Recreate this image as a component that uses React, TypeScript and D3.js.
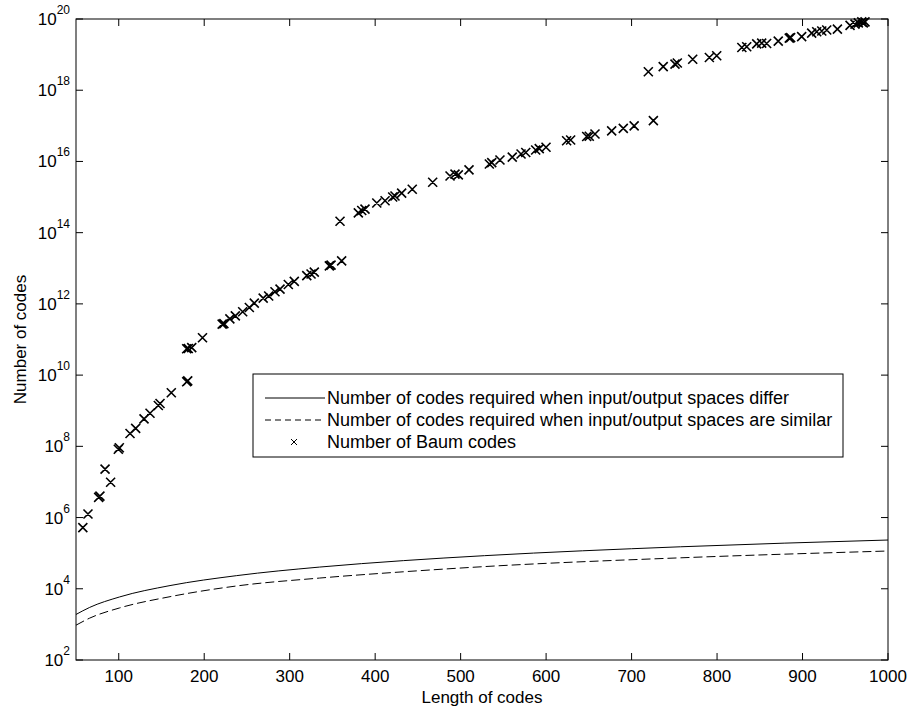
import React from 'react';
import * as d3 from 'd3';

const xTicks = [100, 200, 300, 400, 500, 600, 700, 800, 900, 1000];
const yTickExps = [2, 4, 6, 8, 10, 12, 14, 16, 18, 20];

const curveX = [50, 66, 101, 160, 238, 335, 433, 528, 757, 1000];
const differY = [1900, 3000, 5900, 12300, 23400, 40700, 61700, 85100, 151000, 234000];
const similarY = [950, 1500, 2900, 6000, 12000, 20000, 30000, 42000, 74000, 115000];

const baumX = [58, 64, 76.5, 78, 84, 90.5, 99.5, 100.7, 113.2, 119.8, 129.6, 136.6, 146.3, 148.3, 161.5, 179.5, 180.7, 179.5, 181.4, 185.4, 198, 221, 223, 230, 236.4, 245, 252.8, 258.6, 269, 275.4, 282.8, 288.7, 298.4, 305.4, 320, 325, 328.8, 346.4, 348.4, 360.8, 358.9, 380.3, 384.3, 388.1, 401.9, 411.6, 420.5, 423.2, 431, 443.4, 467.3, 487.6, 493.4, 497.3, 509.8, 533.6, 536.4, 546, 560.4, 570.7, 576.2, 587.8, 592, 599.9, 624, 628.7, 647.5, 650.5, 657.2, 676.7, 690.3, 703, 725.5, 719.6, 737, 750.8, 753.5, 771.5, 791, 799.6, 829, 834.7, 846.4, 852.2, 858, 871.6, 884.5, 886.1, 899, 910.7, 916.6, 922.5, 928.3, 940.8, 955.6, 961.4, 965.3, 969.3, 971.1, 973.1];
const baumY = [5.2e5, 1.26e6, 3.7e6, 4.0e6, 2.3e7, 9.8e6, 8.3e7, 9.1e7, 2.3e8, 3.2e8, 5.9e8, 8.5e8, 1.4e9, 1.6e9, 3.2e9, 6.5e9, 6.9e9, 5.5e10, 5.6e10, 5.9e10, 1.12e11, 2.7e11, 2.8e11, 3.8e11, 4.6e11, 6.0e11, 7.9e11, 1.05e12, 1.45e12, 1.66e12, 2.2e12, 2.6e12, 3.5e12, 4.3e12, 6.2e12, 6.9e12, 7.8e12, 1.17e13, 1.23e13, 1.62e13, 2.1e14, 3.6e14, 4.2e14, 4.6e14, 6.8e14, 7.9e14, 1.0e15, 1.07e15, 1.29e15, 1.66e15, 2.6e15, 3.9e15, 4.4e15, 4.2e15, 5.8e15, 8.5e15, 9.3e15, 1.1e16, 1.32e16, 1.62e16, 1.78e16, 2.1e16, 2.3e16, 2.5e16, 3.8e16, 4.0e16, 5.0e16, 5.1e16, 5.9e16, 7.2e16, 8.5e16, 1.0e17, 1.4e17, 3.3e18, 4.6e18, 5.4e18, 5.8e18, 7.4e18, 8.3e18, 9.3e18, 1.58e19, 1.66e19, 2.0e19, 2.1e19, 2.05e19, 2.4e19, 2.9e19, 3.0e19, 3.2e19, 4.0e19, 4.4e19, 4.6e19, 4.9e19, 5.2e19, 6.6e19, 7.2e19, 7.8e19, 8.3e19, 7.8e19, 8.3e19];

const legendLabels = [
  'Number of codes required when input/output spaces differ',
  'Number of codes required when input/output spaces are similar',
  'Number of Baum codes',
];

const W = 912;
const H = 713;
const M = { left: 76, right: 888, top: 19, bottom: 660 };
const FONT = '"Liberation Sans", Arial, Helvetica, sans-serif';
const INK = '#000';

export default function App() {
  const x = d3.scaleLinear().domain([50, 1000]).range([M.left, M.right]);
  const y = d3.scaleLog().domain([1e2, 1e20]).range([M.bottom, M.top]);

  const line = d3
    .line<number>()
    .x((_, i) => x(curveX[i]))
    .y((d) => y(d))
    .curve(d3.curveMonotoneX);

  const cross = (cx: number, cy: number, r: number) =>
    `M${cx - r},${cy - r}L${cx + r},${cy + r}M${cx - r},${cy + r}L${cx + r},${cy - r}`;

  const tickLen = 7;
  const lg = { x0: 253, y0: 374, x1: 843, y1: 457 };
  const rows = [398, 420, 442];

  return (
    <svg
      width={W}
      height={H}
      style={{ position: 'absolute', left: 0, top: 0, background: '#fff' }}
      fontFamily={FONT}
    >
      <rect x={0} y={0} width={W} height={H} fill="#fff" />
      <path d={line(differY) || ''} fill="none" stroke={INK} strokeWidth={1} />
      <path d={line(similarY) || ''} fill="none" stroke={INK} strokeWidth={1} strokeDasharray="9,4" />
      <path
        d={baumX.map((bx, i) => cross(x(bx), y(baumY[i]), 4.5)).join('')}
        fill="none"
        stroke={INK}
        strokeWidth={1.6}
      />
      <rect
        x={M.left}
        y={M.top}
        width={M.right - M.left}
        height={M.bottom - M.top}
        fill="none"
        stroke={INK}
        strokeWidth={1}
      />
      {xTicks.map((t) => (
        <g key={'x' + t}>
          <line x1={x(t)} x2={x(t)} y1={M.bottom} y2={M.bottom - tickLen} stroke={INK} />
          <line x1={x(t)} x2={x(t)} y1={M.top} y2={M.top + tickLen} stroke={INK} />
          <text x={x(t)} y={682} textAnchor="middle" fontSize={17} fill={INK}>
            {t}
          </text>
        </g>
      ))}
      {yTickExps.map((e) => {
        const py = y(Math.pow(10, e));
        return (
          <g key={'y' + e}>
            <line x1={M.left} x2={M.left + tickLen} y1={py} y2={py} stroke={INK} />
            <line x1={M.right} x2={M.right - tickLen} y1={py} y2={py} stroke={INK} />
            <text x={70} y={py + 6} textAnchor="end" fontSize={17} fill={INK}>
              10
              <tspan dy={-11} fontSize={12}>
                {e}
              </tspan>
            </text>
          </g>
        );
      })}
      <text x={(M.left + M.right) / 2} y={703} textAnchor="middle" fontSize={17} fill={INK}>
        Length of codes
      </text>
      <text
        transform={`translate(26,${(M.top + M.bottom) / 2}) rotate(-90)`}
        textAnchor="middle"
        fontSize={17}
        fill={INK}
      >
        Number of codes
      </text>
      <rect x={lg.x0} y={lg.y0} width={lg.x1 - lg.x0} height={lg.y1 - lg.y0} fill="#fff" stroke={INK} strokeWidth={1} />
      <line x1={265} x2={325} y1={rows[0]} y2={rows[0]} stroke={INK} strokeWidth={1} />
      <line x1={265} x2={325} y1={rows[1]} y2={rows[1]} stroke={INK} strokeWidth={1} strokeDasharray="6,4" />
      <path d={cross(294, rows[2], 3)} fill="none" stroke={INK} strokeWidth={1} />
      {legendLabels.map((s, i) => (
        <text key={s} x={327} y={rows[i] + 6} fontSize={18} fill={INK}>
          {s}
        </text>
      ))}
    </svg>
  );
}
